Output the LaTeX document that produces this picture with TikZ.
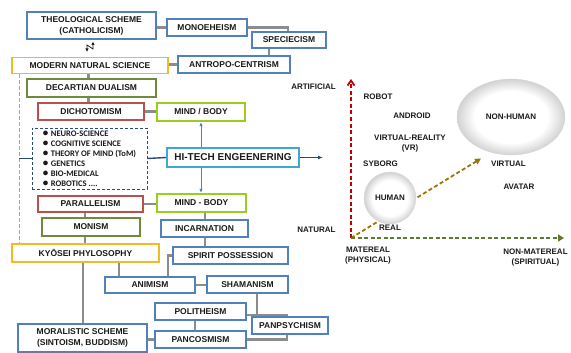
\documentclass[tikz,border=0pt]{standalone}
\usepackage{fontspec}
\setmainfont{Liberation Sans}
\newfontfamily\calfont{Carlito}
\usetikzlibrary{arrows.meta,shapes.geometric}

\definecolor{txtdark}{HTML}{1A1A1A}
\definecolor{boxblue}{HTML}{4F81BD}
\definecolor{boxorange}{HTML}{F5B921}
\definecolor{boxolive}{HTML}{6E8B3D}
\definecolor{boxred}{HTML}{B9504D}
\definecolor{boxlime}{HTML}{9ACD1E}
\definecolor{boxcyan}{HTML}{41A7D2}
\definecolor{boxnavy}{HTML}{2A4A7A}
\definecolor{linkgray}{HTML}{8C8C8C}
\definecolor{dashgray}{HTML}{A6A6A6}
\definecolor{axisred}{HTML}{C00000}
\definecolor{axisgreen}{HTML}{5E7A2E}
\definecolor{axisbrown}{HTML}{A0720A}
\definecolor{ballgray}{HTML}{D2D2D2}

% white ball that greys only near its rim
\pgfdeclareradialshading{softball}{\pgfpoint{0bp}{0bp}}{%
  color(0bp)=(white); color(17bp)=(white); color(25bp)=(ballgray); color(50bp)=(ballgray)}

\newcommand{\blt}{\makebox[8pt][l]{\fontsize{11}{10}\selectfont\textbullet}}

\begin{document}
\begin{tikzpicture}[
  x=1pt, y=-1pt,
  % --- boxes of the concept map
  box/.style={draw, fill=white, line width=1.1pt, inner sep=0pt, align=center,
    text=txtdark, font=\bfseries\fontsize{8.5}{11}\selectfont},
  sz/.style 2 args={minimum width=#1, minimum height=#2},
  bluebox/.style={box, draw=boxblue},
  orangebox/.style={box, draw=boxorange},
  olivebox/.style={box, draw=boxolive},
  redbox/.style={box, draw=boxred},
  limebox/.style={box, draw=boxlime, line width=2.2pt},
  % --- connectors
  link/.style={draw=linkgray, line width=2.2pt},
  navylink/.style={draw=boxnavy, line width=1.4pt},
  vlink/.style={draw=boxblue, line width=0.8pt, -{Latex[length=4pt,width=3.5pt]}},
  % --- right-hand chart
  rlabel/.style={inner sep=0pt, align=center, text=txtdark,
    font=\bfseries\fontsize{8}{10}\selectfont},
  ball/.style={draw=gray!30, line width=0.4pt, shading=softball, rlabel},
  axisline/.style={line width=1.8pt, dash pattern=on 4pt off 2.5pt},
]

\useasboundingbox (0,0) rectangle (571,353);

%========================
% Left-hand concept map
%========================
\node[bluebox, sz={129pt}{27pt}] (theo) at (91.5,25.5) {THEOLOGICAL SCHEME\\(CATHOLICISM)};
\node[bluebox, sz={80pt}{17pt}] (mono) at (207,27.5) {MONOEHEISM};
\node[bluebox, sz={74pt}{16pt}] (spec) at (289,40) {SPECIECISM};
\node[bluebox, sz={112pt}{17pt}] (antro) at (234,64.5) {ANTROPO-CENTRISM};
\node[orangebox, sz={156pt}{15.5pt}] (modern) at (90,65.5) {MODERN NATURAL SCIENCE};
\node[olivebox, sz={129pt}{18pt}] (decart) at (91.5,88) {DECARTIAN DUALISM};
\node[redbox, sz={106pt}{17pt}] (dicho) at (91,111.5) {DICHOTOMISM};
\node[limebox, sz={88pt}{18pt}] (mindA) at (201,112) {MIND / BODY};

% list of sciences
\node[draw=boxnavy, densely dashed, line width=0.7pt, fill=white, sz={115pt}{61pt},
  align=left, inner sep=0pt, text=txtdark, font=\calfont\bfseries\fontsize{8.5}{10}\selectfont]
  (sciences) at (89.5,158.5)
  {\blt NEURO-SCIENCE\\ \blt COGNITIVE SCIENCE\\ \blt THEORY OF MIND (ToM)\\
   \blt GENETICS\\ \blt BIO-MEDICAL\\ \blt ROBOTICS ....};
\node[box, draw=boxcyan, line width=2pt, sz={132pt}{19pt},
  font=\bfseries\fontsize{10}{12}\selectfont] (hitech) at (233,157.5) {HI-TECH ENGEENERING};

\node[redbox, sz={105pt}{16pt}] (parall) at (90.5,204) {PARALLELISM};
\node[limebox, sz={89pt}{18pt}] (mindB) at (201.5,203) {MIND - BODY};
\node[olivebox, sz={98pt}{18pt}] (monism) at (91,227) {MONISM};
\node[bluebox, sz={87pt}{17pt}] (incarn) at (204.5,228.5) {INCARNATION};
\node[orangebox, sz={147pt}{18pt}] (kyosei) at (85.5,253) {KYŌSEI PHYLOSOPHY};
\node[bluebox, sz={115pt}{17pt}] (spirit) at (230.5,255.5) {SPIRIT POSSESSION};
\node[bluebox, sz={90pt}{16pt}] (animism) at (150,285) {ANIMISM};
\node[bluebox, sz={81pt}{17pt}] (shaman) at (247.5,284.5) {SHAMANISM};
\node[bluebox, sz={91pt}{17pt}] (polith) at (200.5,311.5) {POLITHEISM};
\node[bluebox, sz={76pt}{17pt}] (panpsy) at (290,325.5) {PANPSYCHISM};
\node[bluebox, sz={129pt}{28pt}] (moral) at (82.5,338) {MORALISTIC SCHEME\\(SINTOISM, BUDDISM)};
\node[bluebox, sz={91pt}{17pt}] (pancos) at (200.5,339.5) {PANCOSMISM};

% connectors between the boxes
\draw[link] (mono.west -| theo.east) -- (mono.west);
\draw[link] (mono.east) -| ([xshift=-1pt]spec.north);
\draw[link] ([xshift=-20pt]spec.south) -- ([xshift=-20pt]spec.south |- antro.north);
\draw[link] (antro.west) -- (antro.west -| modern.east);
\draw[link] ([xshift=-3pt]decart.north) -- ([xshift=-3pt]decart.north |- modern.south);
\draw[link] ([xshift=-3pt]decart.south) -- ([xshift=-3pt]decart.south |- dicho.north);
\draw[link] (dicho.east) -- (dicho.east -| mindA.west);
\draw[link] (parall.east) -- (parall.east -| mindB.west);
\draw[link] ([xshift=-6pt]monism.north) -- ([xshift=-6pt]monism.north |- parall.south);
\draw[link] ([xshift=-6pt]monism.south) -- ([xshift=-6pt]monism.south |- kyosei.north);
\draw[link] ([xshift=0.5pt]incarn.north) -- ([xshift=0.5pt]incarn.north |- mindB.south);
\draw[link] ([xshift=0.5pt]incarn.south) -- ([xshift=0.5pt]incarn.south |- spirit.north);
\draw[link] ([xshift=-2.5pt]kyosei.south) -- ([xshift=-2.5pt]kyosei.south |- moral.north);
\draw[link] ([xshift=-31pt]animism.north) -- ([xshift=-31pt]animism.north |- kyosei.south);
\draw[link] ([xshift=18pt]animism.north) |- (spirit.west);
\draw[link] (animism.east) -- (animism.east -| shaman.west);
\draw[link] ([yshift=-3.5pt]polith.east) -| ([xshift=-3pt]panpsy.north);
\draw[link] ([xshift=9.5pt]shaman.south) -- ([xshift=9.5pt,yshift=-3.5pt]shaman.south |- polith.east);
\draw[link] ([xshift=-5.5pt]polith.south) -- ([xshift=-5.5pt]polith.south |- pancos.north);
\draw[link] (moral.east |- pancos.west) -- (pancos.west);
\draw[link] (pancos.east) -| ([xshift=-3pt]panpsy.south);

% dashed spine and links of the science list
\coordinate (spinetop) at ([xshift=8pt]modern.south west);
\coordinate (spinebot) at ([xshift=8pt]kyosei.north west);
\coordinate (htout) at (323,157.5);
\draw[dashgray, line width=1.5pt, dash pattern=on 4pt off 2pt] (spinetop) -- (spinebot);
\draw[navylink] (spinetop |- sciences.west) -- (sciences.west);
\draw[navylink] (sciences.east) -- (hitech.west);
\draw[navylink, -{Latex[length=5pt,width=4pt]}] (hitech.east) -- (htout);
\draw[vlink] (hitech.north -| mindA.south) -- (mindA.south);
\draw[vlink] (hitech.south -| mindA.south) -- (mindB.north -| mindA.south);

% zigzag between the two schemes
\coordinate (zzA) at (87,52);
\coordinate (zzB) at (87,45);
\coordinate (zzC) at (93,49);
\coordinate (zzD) at (93,41.5);
\draw[txtdark, line width=0.7pt, {Latex[length=3.5pt,width=3.5pt]}-{Latex[length=3.5pt,width=3.5pt]}]
  (zzA) -- (zzB) -- (zzC) -- (zzD);

%========================
% Right-hand chart
% (material / artificial axes)
%========================
\coordinate (origin) at (351,238);
\coordinate (arttip) at (351,79);
\coordinate (spirtip) at (564,238);
\coordinate (virttip) at (481,158.5);

\draw[axisline, axisbrown, -{Triangle[length=6pt,width=6pt]}] (origin) -- (virttip);
\draw[axisline, axisred, -{Straight Barb[length=5pt,width=7pt]}] (origin) -- (arttip);
\draw[axisline, axisgreen, -{Triangle[length=6pt,width=7pt]}] (origin) -- (spirtip);

\node[ball, circle, minimum size=52pt] (human) at (390,198) {HUMAN};
\node[ball, ellipse, minimum width=108pt, minimum height=76pt] (nonhuman) at (511,117) {NON-HUMAN};

\node[rlabel] (artificial) at (313.5,87) {ARTIFICIAL};
\node[rlabel] (natural) at (316.5,230) {NATURAL};
\node[rlabel] (robot) at (378,97) {ROBOT};
\node[rlabel] (android) at (412,116) {ANDROID};
\node[rlabel] (vr) at (410,144) {VIRTUAL-REALITY\\(VR)};
\node[rlabel] (syborg) at (380.5,164) {SYBORG};
\node[rlabel] (virtual) at (508.5,164) {VIRTUAL};
\node[rlabel] (avatar) at (519,187) {AVATAR};
\node[rlabel] (real) at (390,228) {REAL};
\node[rlabel] (matereal) at (368,256) {MATEREAL\\(PHYSICAL)};
\node[rlabel] (nonmatereal) at (535.5,258) {NON-MATEREAL\\(SPIRITUAL)};

\end{tikzpicture}
\end{document}
